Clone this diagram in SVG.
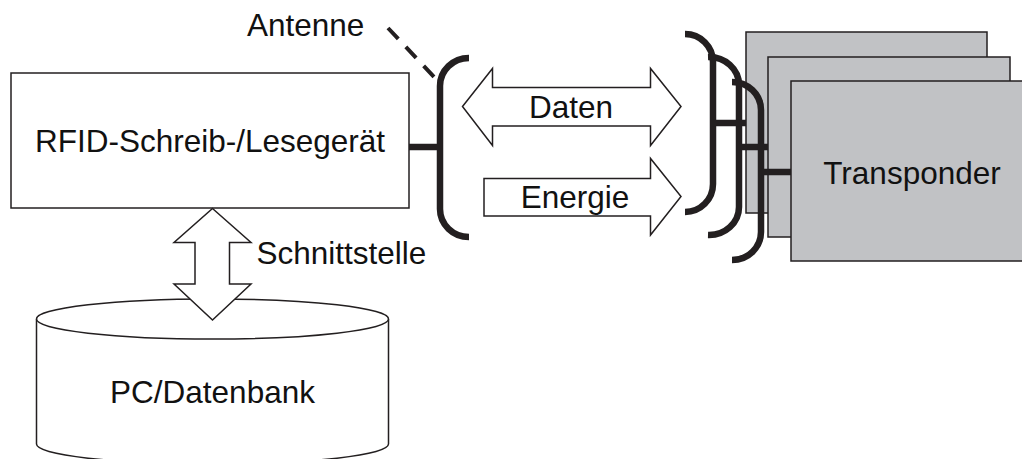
<svg xmlns="http://www.w3.org/2000/svg" width="1022" height="459" viewBox="0 0 1022 459">
  <style>
    .lbl { font-family: "Liberation Sans", Arial, sans-serif; font-size: 31.5px; fill: #111; }
    .thin { fill: #fff; stroke: #231f20; stroke-width: 1.5; }
    .card { fill: #c1c2c5; stroke: #231f20; stroke-width: 1.5; }
    .wire { fill: none; stroke: #231f20; stroke-width: 6.5; }
  </style>

  <!-- Reader unit -->
  <g id="reader">
    <rect class="thin" x="11" y="73" width="398" height="135"/>
    <text class="lbl" x="210" y="152" text-anchor="middle">RFID-Schreib-/Lesegerät</text>
  </g>

  <!-- Database cylinder -->
  <g id="database">
    <path class="thin" d="M36.5,319 L36.5,444 A176,20 0 0 0 388.5,444 L388.5,319"/>
    <ellipse class="thin" cx="212.5" cy="319" rx="176" ry="20"/>
    <text class="lbl" x="212.5" y="403" text-anchor="middle">PC/Datenbank</text>
  </g>

  <!-- Transponder stack -->
  <g id="transponders">
    <rect class="card" x="746" y="32" width="241" height="181"/>
    <rect class="card" x="768" y="57" width="242" height="180"/>
    <path class="wire" d="M708,57 A30,28 0 0 1 739,85 L739,207 A30,28 0 0 1 708,235"/>
    <path class="wire" d="M739,147 L768,147"/>
    <rect class="card" x="791" y="81" width="242" height="180"/>
    <text class="lbl" x="912" y="184" text-anchor="middle">Transponder</text>
  </g>

  <!-- Antennas and links -->
  <g id="connectors">
    <!-- reader antenna -->
    <path class="wire" d="M469,58 A29,28 0 0 0 440,86 L440,209 A29,28 0 0 0 469,237"/>
    <path class="wire" d="M409,147 L440,147"/>
    <line x1="388" y1="28" x2="437" y2="80" stroke="#231f20" stroke-width="4" stroke-dasharray="15 11"/>

    <!-- transponder antennas -->
    <path class="wire" d="M685,34 A28,28 0 0 1 713,62 L713,184 A28,28 0 0 1 685,212"/>
    <path class="wire" d="M713,123 L746,123"/>
    <path class="wire" d="M732,82 A29,28 0 0 1 761,110 L761,232 A29,28 0 0 1 732,260"/>
    <path class="wire" d="M761,172 L791,172"/>

    <!-- data: bidirectional -->
    <path class="thin" d="M462.5,106.5 L492.5,68.5 L492.5,87.5 L650.5,87.5 L650.5,68.5 L681,106.5 L650.5,145.5 L650.5,126 L492.5,126 L492.5,145.5 Z"/>
    <!-- energy: reader to transponder -->
    <path class="thin" d="M484,178.5 L650.5,178.5 L650.5,158.5 L681,196.5 L650.5,235 L650.5,216 L484,216 Z"/>

    <!-- interface: reader to database -->
    <path class="thin" d="M212.5,208.5 L251,242.5 L229.5,242.5 L229.5,284 L251,284 L212.5,320 L174,284 L195,284 L195,242.5 L174,242.5 Z"/>
  </g>

  <!-- Labels -->
  <g id="labels">
    <text class="lbl" x="247" y="36">Antenne</text>
    <text class="lbl" x="571" y="118" text-anchor="middle">Daten</text>
    <text class="lbl" x="575" y="208" text-anchor="middle">Energie</text>
    <text class="lbl" x="256.5" y="264">Schnittstelle</text>
  </g>
</svg>
